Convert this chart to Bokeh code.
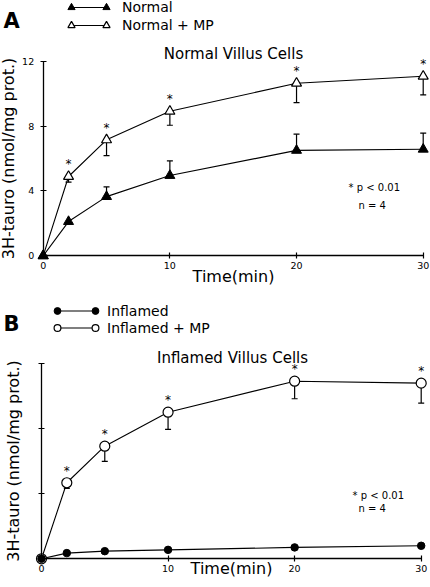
from bokeh.plotting import figure
from bokeh.models import (Range1d, FixedTicker, Label, Legend, LegendItem, Whisker,
                          TeeHead, ColumnDataSource, LinearAxis)
from bokeh.layouts import column
from bokeh.embed import file_html
from bokeh.resources import INLINE
from bokeh.core.properties import value

# ---------------- data ----------------
time_min = [0, 2, 5, 10, 20, 30]
normal = [0, 2.11, 3.65, 4.95, 6.50, 6.57]
normal_err = [0, 0, 0.60, 0.90, 1.00, 1.00]
normal_mp = [0, 4.89, 7.15, 8.91, 10.64, 11.07]
normal_mp_err = [0, 0.35, 0.97, 0.86, 1.20, 1.15]
inflamed = [0, 0.35, 0.47, 0.55, 0.70, 0.80]
inflamed_err = [0, 0, 0, 0, 0, 0]
inflamed_mp = [0, 4.68, 6.93, 9.02, 10.93, 10.81]
inflamed_mp_err = [0, 0.35, 0.93, 1.06, 1.08, 1.23]
significant = [False, True, True, True, True, True]
x_ticks = [0, 10, 20, 30]
y_ticks = [0, 4, 8, 12]

FONT = "DejaVu Sans"


def make_panel(height, xr, yr, letter, title, base_lbl, mp_lbl,
               base_vals, base_err, mp_vals, mp_err, marker, msize_f, msize_o,
               show_ylabels, ylab_standoff, xlab_standoff, geo):
    p = figure(width=430, height=height, x_range=Range1d(*xr), y_range=Range1d(*yr),
               output_backend="svg", toolbar_location=None, min_border=0,
               x_axis_location=None, y_axis_location=None)
    p.outline_line_color = None
    p.background_fill_color = "white"
    p.border_fill_color = "white"
    for g in p.grid:
        g.visible = False

    xaxis = LinearAxis(fixed_location=0, bounds=(0, 30), ticker=FixedTicker(ticks=x_ticks),
                       axis_label="Time(min)")
    yaxis = LinearAxis(fixed_location=0, bounds=(0, 12), ticker=FixedTicker(ticks=y_ticks),
                       axis_label="3H-tauro (nmol/mg prot.)")
    for ax in (xaxis, yaxis):
        ax.axis_line_width = 1.3
        ax.axis_line_color = "black"
        ax.major_tick_in = 3
        ax.major_tick_out = 3
        ax.major_tick_line_width = 1.2
        ax.major_tick_line_color = "black"
        ax.minor_tick_in = 0
        ax.minor_tick_out = 0
        ax.major_label_text_font = FONT
        ax.major_label_text_font_size = "9.5px"
        ax.major_label_text_color = "black"
        ax.axis_label_text_font = FONT
        ax.axis_label_text_font_size = "16px"
        ax.axis_label_text_font_style = "normal"
        ax.axis_label_text_color = "black"
    xaxis.major_label_standoff = 3
    xaxis.axis_label_standoff = xlab_standoff
    yaxis.axis_label_standoff = ylab_standoff
    yaxis.major_label_standoff = 6
    if not show_ylabels:
        yaxis.major_label_overrides = {t: "" for t in y_ticks}
    p.add_layout(xaxis, "below")
    p.add_layout(yaxis, "left")

    # error bars (drawn under the markers)
    bsrc = ColumnDataSource(dict(
        base=[t for t, e in zip(time_min, base_err) if e > 0],
        lower=[v for v, e in zip(base_vals, base_err) if e > 0],
        upper=[v + e for v, e in zip(base_vals, base_err) if e > 0]))
    msrc = ColumnDataSource(dict(
        base=[t for t, e in zip(time_min, mp_err) if e > 0],
        lower=[v - e for v, e in zip(mp_vals, mp_err) if e > 0],
        upper=[v for v, e in zip(mp_vals, mp_err) if e > 0]))
    p.add_layout(Whisker(source=bsrc, base="base", lower="lower", upper="upper",
                         dimension="height", line_color="black", line_width=1.2,
                         lower_head=None,
                         upper_head=TeeHead(size=6, line_color="black", line_width=1.2),
                         level="underlay"))
    p.add_layout(Whisker(source=msrc, base="base", lower="lower", upper="upper",
                         dimension="height", line_color="black", line_width=1.2,
                         upper_head=None,
                         lower_head=TeeHead(size=6, line_color="black", line_width=1.2),
                         level="underlay"))

    s_base = ColumnDataSource(dict(t=time_min, v=base_vals))
    s_mp = ColumnDataSource(dict(t=time_min, v=mp_vals))
    l_base = p.line("t", "v", source=s_base, line_color="black", line_width=1.1)
    l_mp = p.line("t", "v", source=s_mp, line_color="black", line_width=1.1)
    m_mp = p.scatter("t", "v", source=s_mp, marker=marker, size=msize_o,
                     fill_color="white", line_color="black", line_width=1.2)
    m_base = p.scatter("t", "v", source=s_base, marker=marker, size=msize_f,
                       fill_color="black", line_color="black", line_width=1)

    # significance stars
    star_src = ColumnDataSource(dict(
        t=[t for t, s in zip(time_min, significant) if s],
        v=[v for v, s in zip(mp_vals, significant) if s],
        s=["*" for s in significant if s]))
    p.text("t", "v", text="s", source=star_src, text_align="center",
           text_baseline="middle", y_offset=-12, text_font=value(FONT),
           text_font_size="12px", text_color="black")

    # legend: line sample + markers at both ends
    common = dict(orientation="vertical", spacing=0, padding=0, margin=0,
                  glyph_height=geo["row"], label_height=geo["row"],
                  border_line_color=None, background_fill_alpha=0,
                  label_text_font=FONT, label_text_font_size="14px",
                  label_text_color="black")
    lg_line = Legend(items=[LegendItem(label=base_lbl, renderers=[l_base]),
                            LegendItem(label=mp_lbl, renderers=[l_mp])],
                     location=(geo["lx"], geo["ly"]), glyph_width=geo["gw"],
                     label_standoff=geo["ls"], **common)
    lg_left = Legend(items=[LegendItem(label="", renderers=[m_base]),
                            LegendItem(label="", renderers=[m_mp])],
                     location=(geo["lx"] - 10, geo["ly"]), glyph_width=20,
                     label_standoff=0, **common)
    lg_right = Legend(items=[LegendItem(label="", renderers=[m_base]),
                             LegendItem(label="", renderers=[m_mp])],
                      location=(geo["lx"] + geo["gw"] - 10, geo["ly"]), glyph_width=20,
                      label_standoff=0, **common)
    for lg in (lg_line, lg_left, lg_right):
        p.add_layout(lg)

    p.add_layout(Label(x=3, y=geo["letter_y"], x_units="screen", y_units="screen",
                       text=letter, text_font=FONT, text_font_size="21px",
                       text_font_style="bold", text_baseline="alphabetic",
                       text_color="black"))
    p.add_layout(Label(x=geo["title_x"], y=geo["title_y"], x_units="screen", y_units="screen",
                       text=title, text_font=FONT, text_font_size="15px",
                       text_align="center", text_baseline="alphabetic", text_color="black"))
    p.add_layout(Label(x=geo["p_x"], y=geo["p_y"], x_units="screen", y_units="screen",
                       text="* p < 0.01", text_font=FONT, text_font_size="10px",
                       text_baseline="alphabetic", text_color="black"))
    p.add_layout(Label(x=geo["n_x"], y=geo["n_y"], x_units="screen", y_units="screen",
                       text="n = 4", text_font=FONT, text_font_size="10px",
                       text_baseline="alphabetic", text_color="black"))
    return p


p1 = make_panel(290, (-3.371, 30.576), (-2.140, 15.743), "A", "Normal Villus Cells",
                "Normal", "Normal + MP", normal, normal_err, normal_mp, normal_mp_err,
                "triangle", 10, 10, True, 1, -5,
                dict(row=18, lx=71, ly=256, gw=35, ls=16, letter_y=270,
                     title_x=233, title_y=237, p_x=348, p_y=103, n_x=358, n_y=85))
p2 = make_panel(296, (-3.239, 30.735), (-1.705, 16.511), "B", "Inflamed Villus Cells",
                "Inflamed", "Inflamed + MP", inflamed, inflamed_err, inflamed_mp, inflamed_mp_err,
                "circle", 7.5, 10, False, 16, -16,
                dict(row=17, lx=57, ly=250, gw=38, ls=12, letter_y=263,
                     title_x=232, title_y=229, p_x=352, p_y=91, n_x=358, n_y=78))

layout = column(p1, p2, spacing=0)
open("out.html", "w").write(file_html(layout, INLINE))
